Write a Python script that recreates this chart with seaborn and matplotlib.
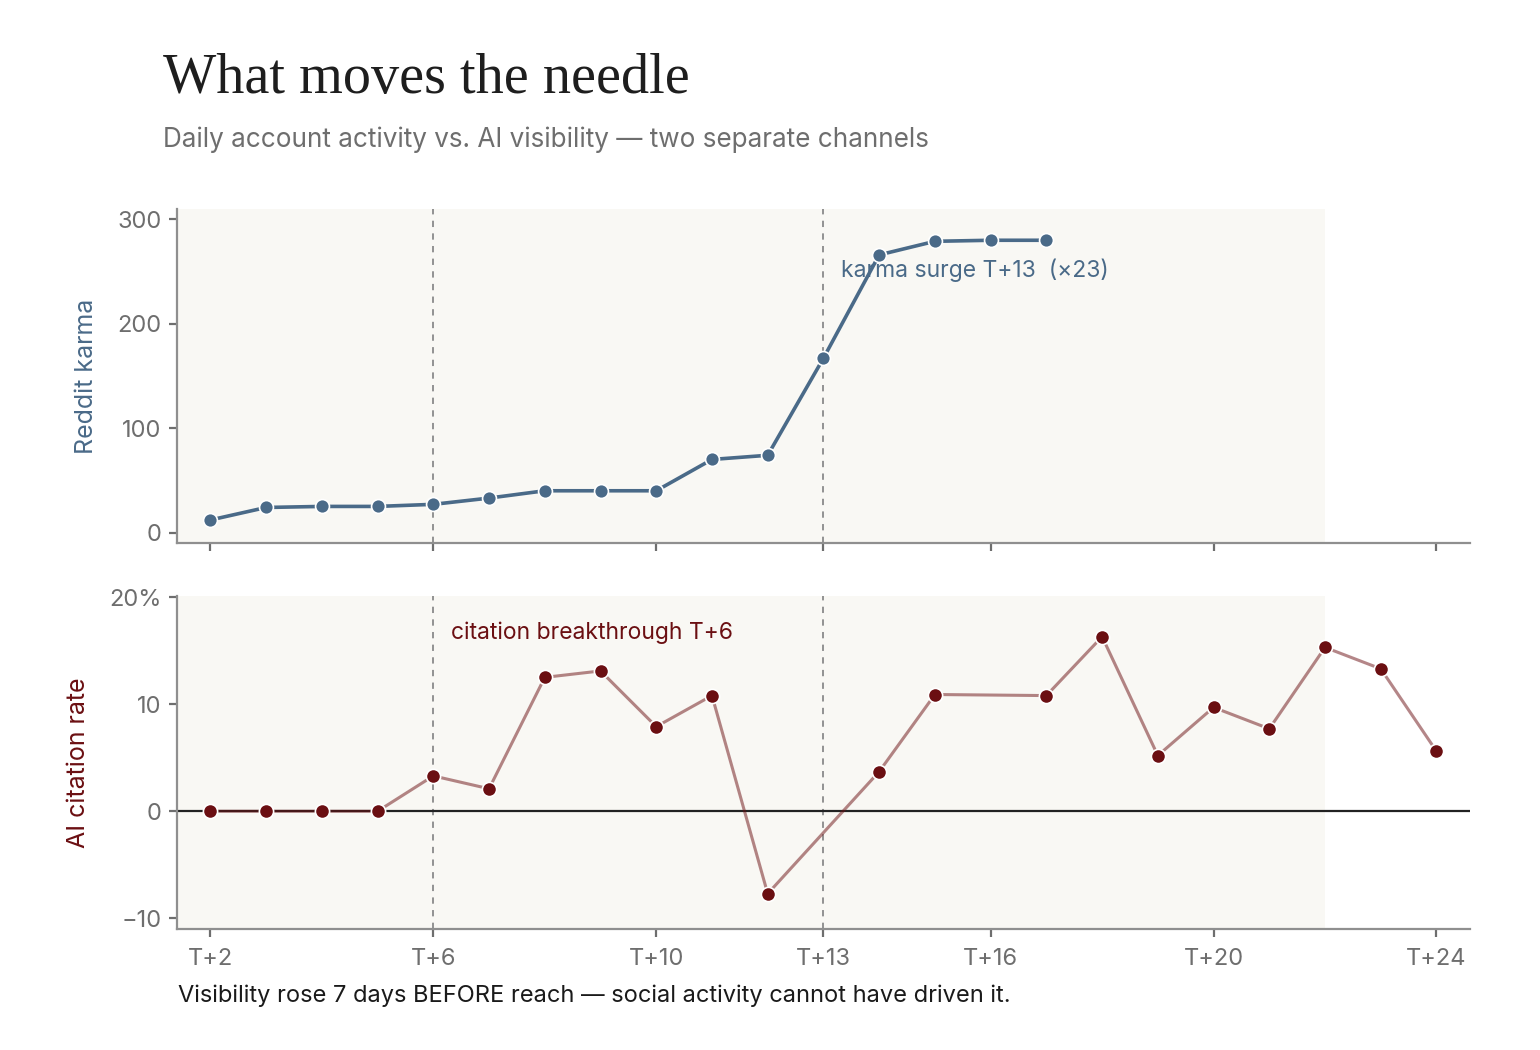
import matplotlib
matplotlib.use("Agg")
import matplotlib.pyplot as plt
import matplotlib.ticker as mticker
import seaborn as sns
import pandas as pd

# ---- data ----
karma_days = [2, 3, 4, 5, 6, 7, 8, 9, 10, 11, 12, 13, 14, 15, 16, 17]
karma_vals = [12, 24, 25, 25, 27, 33, 40, 40, 40, 70, 74, 167, 266, 279, 280, 280]
cite_days = [2, 3, 4, 5, 6, 7, 8, 9, 10, 11, 12, 14, 15, 17, 18, 19, 20, 21, 22, 23, 24]
cite_vals = [0, 0, 0, 0, 3.3, 2.1, 12.5, 13.1, 7.9, 10.8, -7.7, 3.7, 10.9, 10.8, 16.3,
             5.2, 9.7, 7.7, 15.3, 13.3, 5.6]
tick_days = [2, 6, 10, 13, 16, 20, 24]
tick_labels = ["T+2", "T+6", "T+10", "T+13", "T+16", "T+20", "T+24"]
event_days = [6, 13]
title = "What moves the needle"
subtitle = "Daily account activity vs. AI visibility \u2014 two separate channels"
footnote = "Visibility rose 7 days BEFORE reach \u2014 social activity cannot have driven it."

BLUE = "#4a6a88"
RED = "#6b0f12"
GRAY = "#6e6e6e"
SPINE = "#8f8f8f"
SHADE = "#f9f8f4"

sns.set_theme(style="ticks")
plt.rcParams["font.family"] = ["Inter", "DejaVu Sans"]

karma_df = pd.DataFrame({"day": karma_days, "karma": karma_vals})
cite_df = pd.DataFrame({"day": cite_days, "rate": cite_vals})

fig = plt.figure(figsize=(15.4, 10.5), dpi=100)
ax1 = fig.add_axes([0.1149, 0.4829, 0.8396, 0.3181])
ax2 = fig.add_axes([0.1149, 0.1152, 0.8396, 0.3172], sharex=ax1)

for ax in (ax1, ax2):
    ax.set_facecolor("white")
    ax.axvspan(1.4, 22, color=SHADE, zorder=0, lw=0)
    for d in event_days:
        ax.axvline(d, color="#8a8a8a", ls=(0, (3.5, 3.5)), lw=1.3, zorder=1)
    for s in ("top", "right"):
        ax.spines[s].set_visible(False)
    for s in ("left", "bottom"):
        ax.spines[s].set_color(SPINE)
        ax.spines[s].set_linewidth(1.6)
    ax.tick_params(axis="both", colors=GRAY, labelcolor=GRAY, labelsize=17,
                   length=6, width=1.6, pad=5)
    ax.tick_params(axis="x", pad=8)
    ax.set_xlim(1.4, 24.6)

# top panel
sns.lineplot(data=karma_df, x="day", y="karma", ax=ax1, color=BLUE, lw=2.6,
             marker="o", markersize=10, markeredgecolor="white", markeredgewidth=1.2,
             zorder=3)
ax1.set_ylim(-10, 310)
ax1.set_yticks([0, 100, 200, 300])
ax1.set_ylabel("Reddit karma", color=BLUE, fontsize=18, labelpad=14)
ax1.set_xlabel("")
ax1.tick_params(axis="x", labelbottom=False)
ax1.text(13.32, 251, "karma surge T+13  (\u00d723)", color=BLUE, fontsize=16.5,
         va="center", ha="left", zorder=4)

# bottom panel
ax2.axhline(0, color="#222222", lw=1.6, zorder=2)
sns.lineplot(data=cite_df, x="day", y="rate", ax=ax2, color=RED, lw=2.2, alpha=0.5,
             zorder=3)
sns.scatterplot(data=cite_df, x="day", y="rate", ax=ax2, color=RED, s=105,
                edgecolor="white", linewidth=1.2, zorder=4)
ax2.set_ylim(-11, 20.1)
ax2.set_yticks([-10, 0, 10, 20])
ax2.yaxis.set_major_formatter(mticker.FuncFormatter(
    lambda v, p: f"{v:.0f}%" if v == 20 else ("\u2212" + f"{abs(v):.0f}" if v < 0 else f"{v:.0f}")))
ax2.set_ylabel("AI citation rate", color=RED, fontsize=18, labelpad=14)
ax2.set_xlabel("")
ax2.set_xticks(tick_days)
ax2.set_xticklabels(tick_labels)
ax2.text(6.31, 16.7, "citation breakthrough T+6", color=RED, fontsize=16.5,
         va="center", ha="left", zorder=4)

fig.text(0.106, 0.925, title, fontsize=40.5, color="#1e1e1e",
         family=["Liberation Serif", "DejaVu Serif"], va="center", ha="left")
fig.text(0.106, 0.867, subtitle, fontsize=18.8, color=GRAY, va="center", ha="left")
fig.text(0.1155, 0.052, footnote, fontsize=17, color="#1a1a1a", va="center", ha="left")

fig.savefig("out.png", dpi=100, facecolor="white")
